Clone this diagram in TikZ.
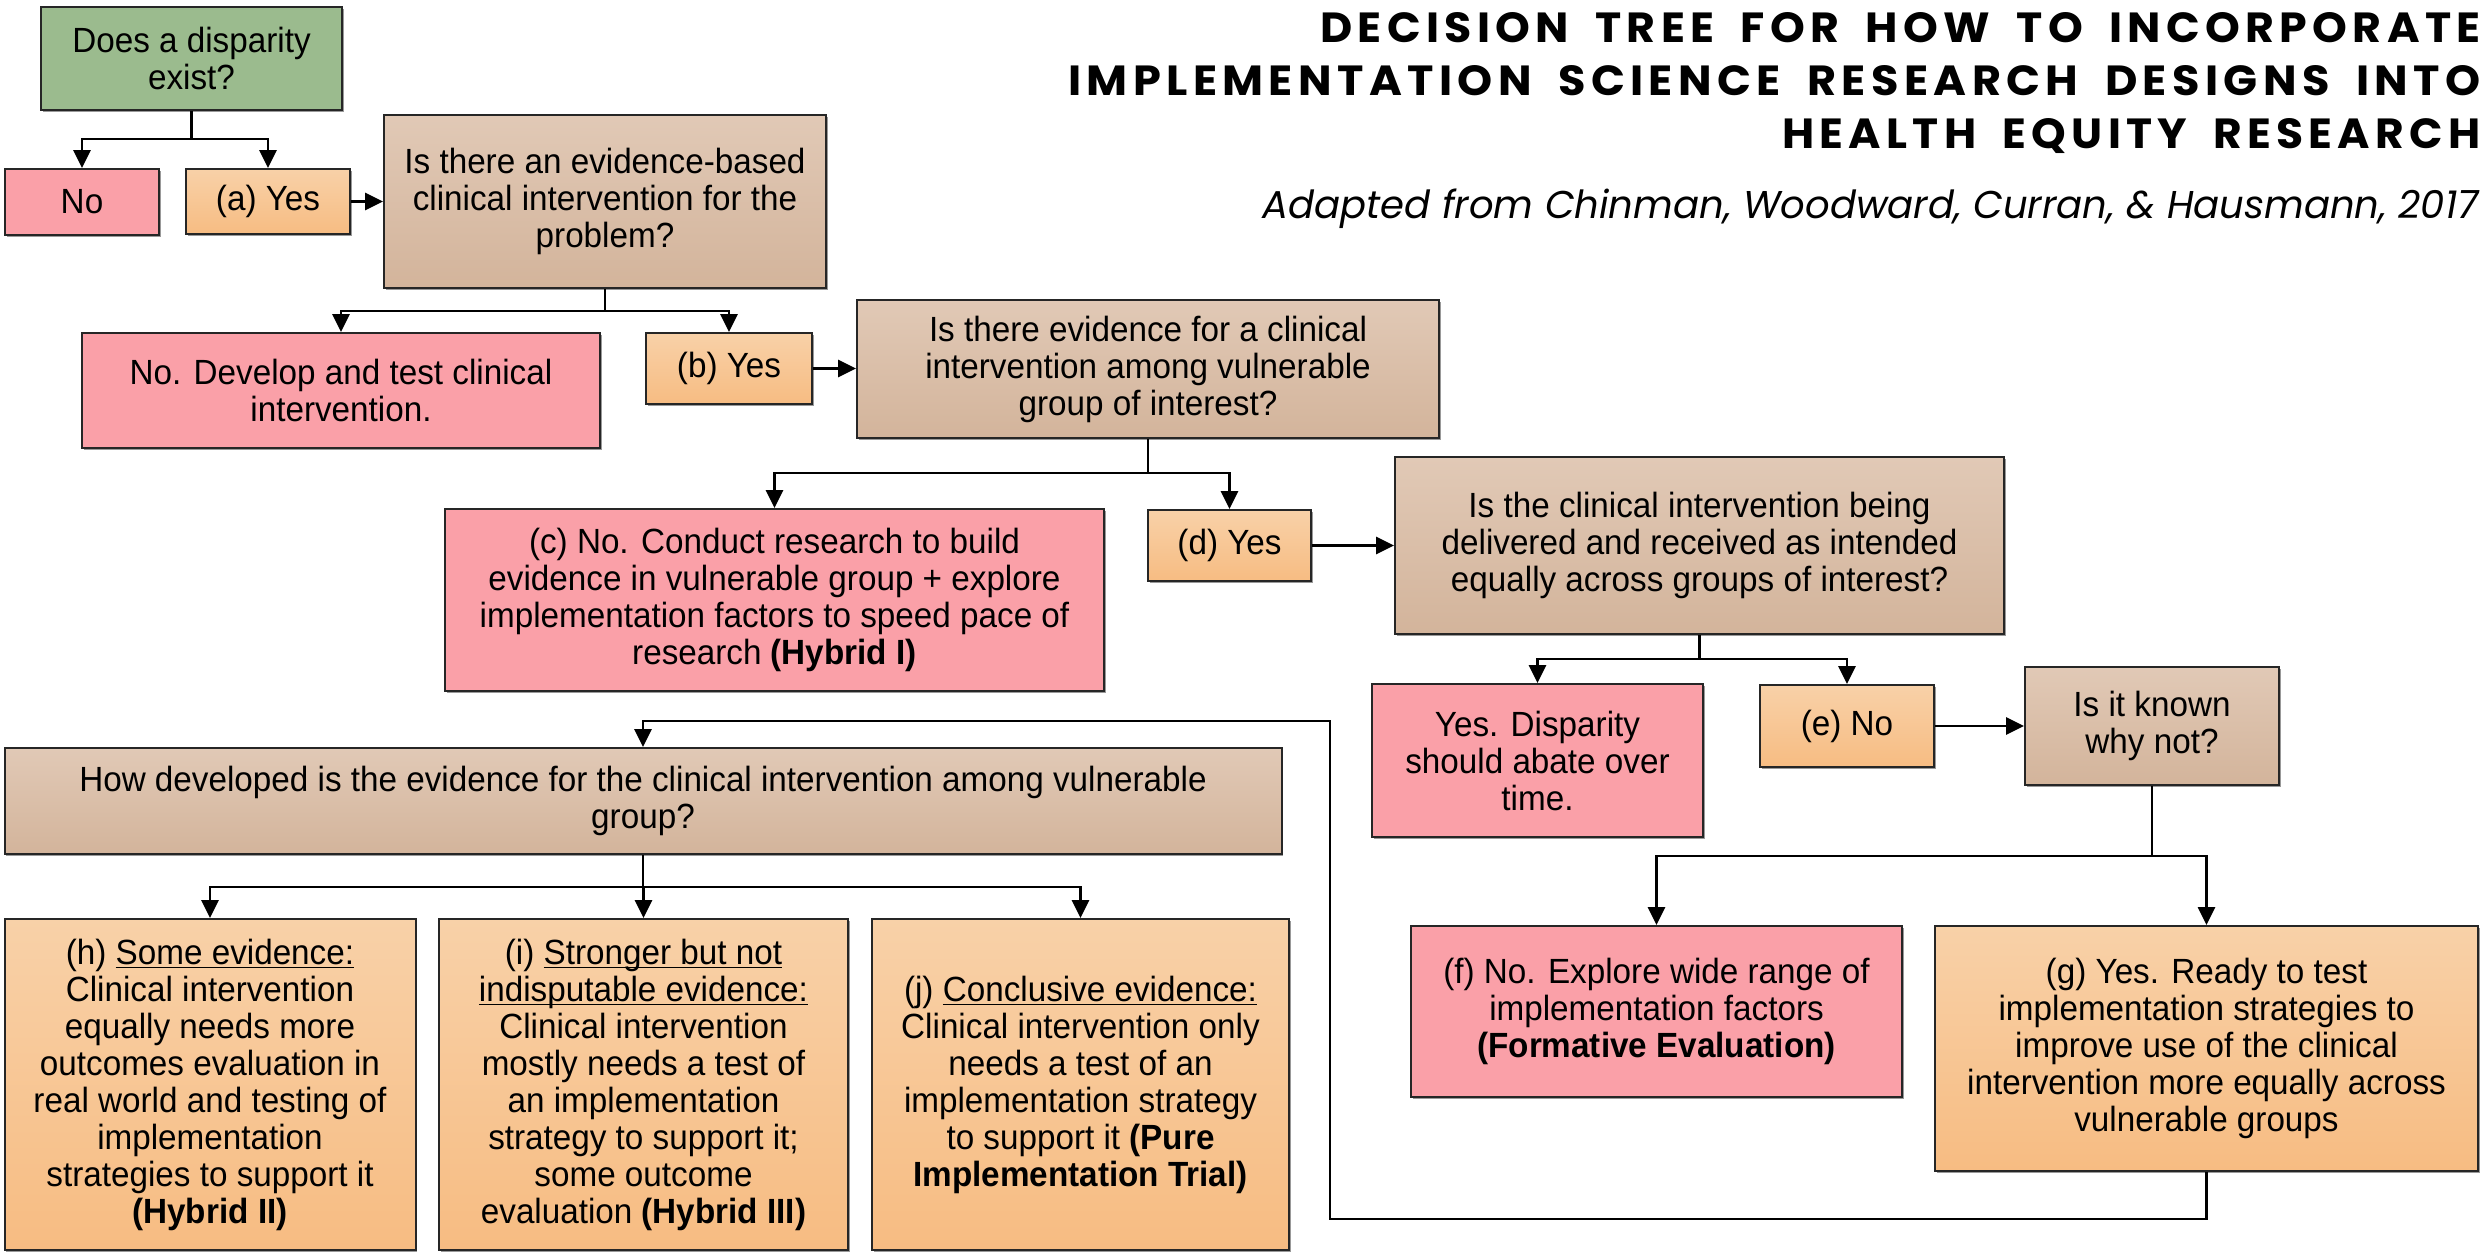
\documentclass[tikz,border=0pt]{standalone}
\usepackage{fontspec}
\setmainfont[FakeStretch=0.95]{Liberation Sans}
\newfontfamily\titlefont[LetterSpace=12,WordSpace=1.8]{Poppins}
\newfontfamily\subfont{Poppins}
\usetikzlibrary{arrows.meta,shadows}
\definecolor{greenc}{HTML}{9BBB8E}
\definecolor{pinkc}{HTML}{FAA0A8}
\definecolor{orangetop}{HTML}{F8D1A8}
\definecolor{orangebot}{HTML}{F7BC82}
\definecolor{tantop}{HTML}{E1C9B6}
\definecolor{tanbot}{HTML}{D3B49B}
\newcommand{\myul}[1]{\setbox0\hbox{#1}\rlap{\rule[-2.2pt]{\wd0}{0.9pt}}\box0}
\tikzset{
  box/.style={draw=black!85, line width=1pt, inner sep=0pt, align=center,
    font=\fontsize{17.5pt}{18.5pt}\selectfont,
    drop shadow={shadow xshift=0.8pt,shadow yshift=-0.8pt,opacity=0.4,fill=black}},
  greenbox/.style={box, fill=greenc},
  pinkbox/.style={box, fill=pinkc},
  orangebox/.style={box, top color=orangetop, bottom color=orangebot},
  tanbox/.style={box, top color=tantop, bottom color=tanbot},
  conn/.style={line width=1.4pt, -{Triangle[length=9pt,width=8.5pt]}},
  titletext/.style={inner sep=0pt, anchor=base west}
}
\begin{document}
\begin{tikzpicture}[x=0.5pt,y=-0.5pt]
\useasboundingbox (0,0) rectangle (2484,1253);
\clip (0,0) rectangle (2484,1253);
\fill[white] (0,0) rectangle (2484,1253);

% title
\node[titletext] (t1) at (1320,42) {\resizebox{580pt}{15pt}{\titlefont\bfseries DECISION TREE FOR HOW TO INCORPORATE}};
\node[titletext] (t2) at (1068,95) {\resizebox{706pt}{15pt}{\titlefont\bfseries IMPLEMENTATION SCIENCE RESEARCH DESIGNS INTO}};
\node[titletext] (t3) at (1782,148) {\resizebox{349pt}{15pt}{\titlefont\bfseries HEALTH EQUITY RESEARCH}};
\node[titletext] (sub) at (1262,218) {\resizebox{608pt}{14.8pt}{\subfont\itshape Adapted from Chinman, Woodward, Curran, \& Hausmann, 2017}};

% boxes
\node[greenbox, minimum width=150.5pt, minimum height=51.5pt] (G) at (191.5,58.5) {Does a disparity\\exist?};
\node[pinkbox, minimum width=77pt, minimum height=33pt] (No0) at (82,202) {No};
\node[orangebox, minimum width=82pt, minimum height=32.5pt] (aYes) at (268,201.5) {(a) Yes};
\node[tanbox, minimum width=221pt, minimum height=86.5pt] (Q1) at (605,201.5) {Is there an evidence-based\\clinical intervention for the\\problem?};
\node[pinkbox, minimum width=259pt, minimum height=57.5pt] (NoDev) at (341,390.5) {No. Develop and test clinical\\intervention.};
\node[orangebox, minimum width=83pt, minimum height=35.5pt] (bYes) at (729,368.5) {(b) Yes};
\node[tanbox, minimum width=291pt, minimum height=69pt] (Q2) at (1148,369) {Is there evidence for a clinical\\intervention among vulnerable\\group of interest?};
\node[pinkbox, minimum width=329.5pt, minimum height=91pt] (cBox) at (774.5,600) {(c) No. Conduct research to build\\evidence in vulnerable group + explore\\implementation factors to speed pace of\\research \textbf{(Hybrid I)}};
\node[orangebox, minimum width=81.5pt, minimum height=35.5pt] (dYes) at (1229.5,545.5) {(d) Yes};
\node[tanbox, minimum width=304.5pt, minimum height=88.5pt] (Q3) at (1699.5,545.5) {Is the clinical intervention being\\delivered and received as intended\\equally across groups of interest?};
\node[pinkbox, minimum width=165.5pt, minimum height=76.5pt] (YesDisp) at (1537.5,760.5) {Yes. Disparity\\should abate over\\time.};
\node[orangebox, minimum width=87pt, minimum height=41pt] (eNo) at (1847,726) {(e) No};
\node[tanbox, minimum width=127pt, minimum height=59pt] (Known) at (2152,726) {Is it known\\why not?};
\node[pinkbox, minimum width=245.5pt, minimum height=85.5pt] (f) at (1656.5,1011.5) {(f) No. Explore wide range of\\implementation factors\\\textbf{(Formative Evaluation)}};
\node[orangebox, minimum width=271.5pt, minimum height=122.5pt] (g) at (2206.5,1048.5) {(g) Yes. Ready to test\\implementation strategies to\\improve use of the clinical\\intervention more equally across\\vulnerable groups};
\node[tanbox, minimum width=638.5pt, minimum height=53pt] (HowDev) at (643,801) {How developed is the evidence for the clinical intervention among vulnerable\\group?};
\node[orangebox, minimum width=205.5pt, minimum height=165.5pt] (h) at (210,1084.5) {(h) \myul{Some evidence:}\\Clinical intervention\\equally needs more\\outcomes evaluation in\\real world and testing of\\implementation\\strategies to support it\\\textbf{(Hybrid II)}};
\node[orangebox, minimum width=204.5pt, minimum height=165.5pt] (i) at (643.5,1084.5) {(i) \myul{Stronger but not}\\\myul{indisputable evidence:}\\Clinical intervention\\mostly needs a test of\\an implementation\\strategy to support it;\\some outcome\\evaluation \textbf{(Hybrid III)}};
\node[orangebox, minimum width=208.5pt, minimum height=165.5pt] (j) at (1080.5,1084.5) {(j) \myul{Conclusive evidence:}\\Clinical intervention only\\needs a test of an\\implementation strategy\\to support it \textbf{(Pure}\\\textbf{Implementation Trial)}};

% junction levels
\coordinate (m1) at (0,139);
\coordinate (m2) at (0,311);
\coordinate (m3) at (0,473);
\coordinate (m4) at (0,659);
\coordinate (m5) at (0,856);
\coordinate (m6) at (0,887);
\coordinate (lb) at (1330,1219);
\coordinate (lt) at (1330,721);

% connectors
\draw[conn] (G.south) -- (G.south |- m1) -| (No0.north);
\draw[conn] (G.south |- m1) -| (aYes.north);
\draw[conn] (aYes.east) -- (Q1.west |- aYes.east);

\draw[conn] (Q1.south) -- (Q1.south |- m2) -| (NoDev.north);
\draw[conn] (Q1.south |- m2) -| (bYes.north);
\draw[conn] (bYes.east) -- (Q2.west |- bYes.east);

\draw[conn] (Q2.south) -- (Q2.south |- m3) -| (cBox.north);
\draw[conn] (Q2.south |- m3) -| (dYes.north);
\draw[conn] (dYes.east) -- (Q3.west |- dYes.east);

\draw[conn] (Q3.south) -- (Q3.south |- m4) -| (YesDisp.north);
\draw[conn] (Q3.south |- m4) -| (eNo.north);
\draw[conn] (eNo.east) -- (Known.west |- eNo.east);

\draw[conn] (Known.south) -- (Known.south |- m5) -| (f.north);
\draw[conn] (Known.south |- m5) -| (g.north);

\draw[conn] (g.south) |- (lb) |- (HowDev.north |- lt) -- (HowDev.north);

\draw[conn] (HowDev.south) -- (HowDev.south |- m6) -| (h.north);
\draw[conn] (HowDev.south |- m6) -| (i.north);
\draw[conn] (HowDev.south |- m6) -| (j.north);
\end{tikzpicture}
\end{document}
